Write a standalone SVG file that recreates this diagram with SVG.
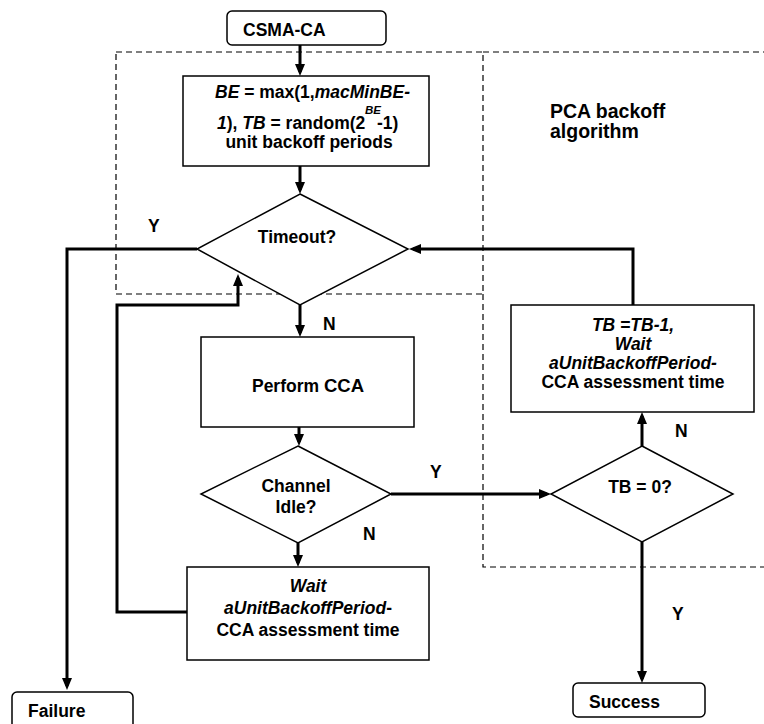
<svg xmlns="http://www.w3.org/2000/svg" width="764" height="724" viewBox="0 0 764 724">
  <defs>
    <marker id="arrow" markerUnits="userSpaceOnUse" markerWidth="12" markerHeight="10" refX="8" refY="5" orient="auto">
      <path d="M0,0 L12,5 L0,10 z" fill="#000"/>
    </marker>
    <style>
      text { font-family: "Liberation Sans", Arial, sans-serif; font-weight: bold; font-size: 17.5px; fill: #000; }
      .mid { text-anchor: middle; }
      .it { font-style: italic; }
      .shape { fill: #fff; stroke: #000; stroke-width: 1.5; }
      .region { fill: none; stroke: #000; stroke-width: 1.2; stroke-dasharray: 6 4; }
      .conn { fill: none; stroke: #000; stroke-width: 3; marker-end: url(#arrow); }
    </style>
  </defs>
  <rect width="764" height="724" fill="#fff"/>

  <!-- dashed regions -->
  <g id="regions">
    <rect class="region" x="116" y="52" width="367" height="242"/>
    <path class="region" d="M483 294 V567 H770 M483 52 H770"/>
    <text x="550" y="118" style="font-size:19.5px">PCA backoff</text>
    <text x="550" y="138" style="font-size:19.5px">algorithm</text>
  </g>

  <!-- connectors -->
  <g id="connectors">
    <path class="conn" d="M300 45 V72"/>
    <path class="conn" d="M300 166 V190"/>
    <path class="conn" d="M197 249 H67 V686"/>
    <path class="conn" d="M300 305 V333"/>
    <path class="conn" d="M299 427 V442"/>
    <path class="conn" d="M298 543 V563"/>
    <path class="conn" d="M187 612 H117 V305 H238 V278"/>
    <path class="conn" d="M391 494 H547"/>
    <path class="conn" d="M642 446 V416"/>
    <path class="conn" d="M633 305 V249 H413"/>
    <path class="conn" d="M642 542 V679"/>
    <text x="148" y="232">Y</text>
    <text x="323" y="330">N</text>
    <text x="430" y="478">Y</text>
    <text x="363" y="540">N</text>
    <text x="675" y="437">N</text>
    <text x="672" y="620">Y</text>
  </g>

  <g id="start">
    <rect class="shape" x="227" y="11" width="159" height="34" rx="5"/>
    <text x="243" y="36">CSMA-CA</text>
  </g>

  <g id="init">
    <rect class="shape" x="183" y="76" width="246" height="90"/>
    <text x="215" y="98"><tspan class="it">BE</tspan> = max(1,<tspan class="it">macMinBE-</tspan></text>
    <text x="217" y="129"><tspan class="it">1</tspan>), <tspan class="it">TB</tspan> = random(2</text>
    <text x="365" y="114" class="it" style="font-size:11.5px">BE</text>
    <text x="377" y="129">-1)</text>
    <text x="309" y="148" class="mid">unit backoff periods</text>
  </g>

  <g id="timeout">
    <polygon class="shape" points="300,194 408,249 300,305 197,249"/>
    <text x="297" y="243" class="mid">Timeout?</text>
  </g>

  <g id="perform-cca">
    <rect class="shape" x="201" y="337" width="213" height="90"/>
    <text x="308" y="392" class="mid">Perform <tspan style="font-size:18.5px">CCA</tspan></text>
  </g>

  <g id="channel-idle">
    <polygon class="shape" points="298,446 391,494 298,543 201,494"/>
    <text x="296" y="492" class="mid">Channel</text>
    <text x="296" y="513" class="mid">Idle?</text>
  </g>

  <g id="wait">
    <rect class="shape" x="187" y="567" width="242" height="93"/>
    <text x="308" y="592" class="mid it">Wait</text>
    <text x="308" y="614" class="mid"><tspan class="it">aUnitBackoffPeriod</tspan>-</text>
    <text x="308" y="636" class="mid">CCA assessment time</text>
  </g>

  <g id="tb-zero">
    <polygon class="shape" points="642,446 733,494 642,542 551,494"/>
    <text x="640" y="493" class="mid">TB = 0?</text>
  </g>

  <g id="tb-decrement">
    <rect class="shape" x="511" y="305" width="243" height="107"/>
    <text x="633" y="331" class="mid it">TB =TB-1,</text>
    <text x="633" y="350" class="mid it">Wait</text>
    <text x="633" y="369" class="mid it">aUnitBackoffPeriod-</text>
    <text x="633" y="388" class="mid">CCA assessment time</text>
  </g>

  <g id="success">
    <rect class="shape" x="573" y="683" width="132" height="34" rx="5"/>
    <text x="589" y="708">Success</text>
  </g>

  <g id="failure">
    <rect class="shape" x="12" y="692" width="121" height="40" rx="5"/>
    <text x="28" y="717">Failure</text>
  </g>
</svg>
